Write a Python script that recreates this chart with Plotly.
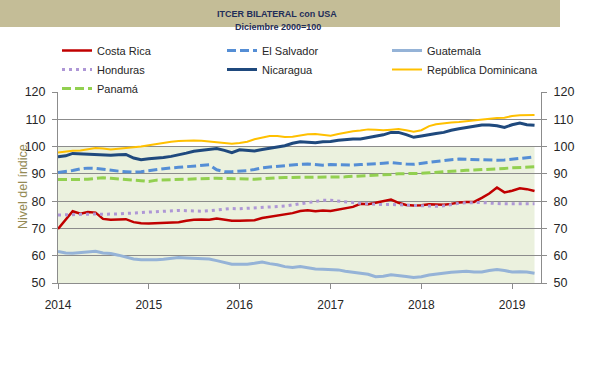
import pandas as pd
import plotly.graph_objects as go

fechas = pd.date_range("2014-01-01", periods=64, freq="MS")

costa_rica = [
    69.8, 73.0, 76.3, 75.4, 76.0, 75.8, 73.5, 73.2, 73.3, 73.4, 72.3, 71.9,
    71.8, 71.9, 72.0, 72.1, 72.3, 72.8, 73.2, 73.3, 73.2, 73.6, 73.1, 72.8,
    72.8, 72.8, 73.0, 73.8, 74.2, 74.6, 75.2, 75.6, 76.4, 76.7, 76.3, 76.6,
    76.4, 76.9, 77.4, 77.9, 79.0, 78.9, 79.4, 80.0, 80.6, 79.4, 78.6, 78.4,
    78.5, 78.9, 78.8, 78.7, 79.0, 79.5, 79.7, 79.7, 81.2, 82.8, 85.0, 83.2,
    83.8, 84.7, 84.4, 83.7]
el_salvador = [
    90.5, 90.8, 91.2, 91.8, 92.1, 92.0, 91.6, 91.2, 91.0, 90.8, 90.6, 90.8,
    91.2, 91.6, 92.0, 92.2, 92.4, 92.6, 92.9, 93.1, 93.3, 91.5, 90.8, 90.8,
    90.9, 91.2, 91.6, 92.2, 92.5, 92.8, 93.0, 93.3, 93.5, 93.6, 93.4, 93.2,
    93.4, 93.3, 93.2, 93.2, 93.4, 93.5, 93.6, 93.9, 94.1, 93.8, 93.6, 93.5,
    93.9, 94.2, 94.5, 94.9, 95.2, 95.4, 95.3, 95.1, 95.0, 95.0, 95.0, 95.1,
    95.3, 95.6, 95.9, 96.2]
guatemala = [
    61.6, 61.0, 60.9, 61.1, 61.2, 61.6, 61.0, 60.8, 60.2, 59.4, 58.8, 58.5,
    58.4, 58.5, 58.7, 59.0, 59.3, 59.2, 59.0, 58.8, 58.8, 58.2, 57.4, 56.9,
    56.9, 56.9, 57.2, 57.7, 57.1, 56.7, 56.0, 55.7, 56.0, 55.5, 55.1, 55.0,
    55.0, 54.8, 54.3, 53.9, 53.7, 53.2, 52.3, 52.5, 53.0, 52.8, 52.4, 52.0,
    52.3, 52.9, 53.3, 53.6, 53.9, 54.1, 54.3, 54.0, 54.0, 54.6, 54.9, 54.6,
    54.0, 54.1, 54.0, 53.6]
honduras = [
    74.9, 75.0, 75.1, 75.2, 75.3, 75.3, 75.2, 75.2, 75.3, 75.5, 75.7, 75.9,
    75.9, 76.1, 76.3, 76.5, 76.6, 76.5, 76.3, 76.3, 76.5, 76.8, 77.0, 77.3,
    77.2, 77.4, 77.5, 77.6, 77.8, 77.9, 78.2, 78.6, 79.0, 79.5, 79.9, 80.3,
    80.3, 80.1, 79.8, 79.5, 79.2, 79.0, 78.8, 78.7, 78.8, 78.7, 78.5, 78.4,
    78.3, 78.1, 78.1, 78.3, 78.8, 79.2, 79.4, 79.5, 79.5, 79.3, 79.1, 79.0,
    79.0, 79.0, 79.0, 79.0]
nicaragua = [
    96.3, 96.6, 97.5, 97.4, 97.3, 97.0, 96.9, 96.8, 97.0, 97.1, 95.8, 95.2,
    95.5, 95.7, 96.0, 96.4, 96.9, 97.6, 98.3, 98.7, 99.0, 99.3, 98.6, 97.8,
    98.8, 98.6, 98.4, 98.9, 99.3, 99.8, 100.3, 101.2, 101.8, 101.6, 101.4, 101.8,
    101.9, 102.3, 102.6, 102.8, 102.8, 103.3, 103.9, 104.3, 105.2, 105.2, 104.4, 103.4,
    103.9, 104.5, 104.8, 105.2, 106.0, 106.5, 107.0, 107.6, 107.9, 107.9, 107.6, 107.0,
    108.0, 108.6, 108.0, 107.8]
rep_dominicana = [
    97.8, 98.2, 98.5, 98.6, 99.0, 99.5, 99.3, 98.9, 99.2, 99.5, 99.6, 100.0,
    100.5, 101.0, 101.3, 101.8, 102.0, 102.2, 102.2, 102.1, 101.8, 101.5, 101.2, 101.0,
    101.3, 101.8, 102.7, 103.4, 103.9, 103.9, 103.5, 103.6, 104.0, 104.5, 104.6, 104.2,
    104.0, 104.6, 105.1, 105.6, 105.9, 106.3, 106.2, 106.0, 106.2, 106.4, 106.0, 105.4,
    106.0, 107.5, 108.2, 108.6, 108.8, 109.0, 109.3, 109.7, 110.0, 110.3, 110.5, 110.6,
    111.2, 111.5, 111.6, 111.6]
panama = [
    87.9, 87.9, 87.9, 87.9, 88.0, 88.3, 88.6, 88.4, 88.1, 87.9, 87.7, 87.5,
    87.2, 87.7, 87.8, 87.7, 87.8, 87.9, 88.0, 88.2, 88.4, 88.4, 88.3, 88.3,
    88.1, 88.1, 88.0, 88.2, 88.5, 88.7, 88.7, 88.7, 88.7, 88.7, 88.7, 88.7,
    88.7, 88.8, 88.9, 89.1, 89.2, 89.4, 89.5, 89.6, 89.8, 90.0, 90.0, 90.1,
    90.2, 90.4, 90.6, 90.8, 91.0, 91.2, 91.3, 91.4, 91.5, 91.6, 91.8, 92.0,
    92.2, 92.4, 92.5, 92.6]

banda_min, banda_max = 50, 100
y_rango = [50, 120]
y_ticks = [50, 60, 70, 80, 90, 100, 110, 120]
x_ticks = ["2014-01-01", "2015-01-01", "2016-01-01", "2017-01-01", "2018-01-01", "2019-01-01"]
x_labels = ["2014", "2015", "2016", "2017", "2018", "2019"]

titulo1 = "ITCER BILATERAL con USA"
titulo2 = "Diciembre 2000=100"
eje_y = "Nivel del índice"

series = [
    ("Costa Rica", costa_rica, "#C00000", 2.5, "solid"),
    ("El Salvador", el_salvador, "#558ED5", 3, "9px,4px"),
    ("Guatemala", guatemala, "#95B3D7", 3, "solid"),
    ("Honduras", honduras, "#AE97D6", 3, "3px,4px"),
    ("Nicaragua", nicaragua, "#1F497D", 3, "solid"),
    ("República Dominicana", rep_dominicana, "#FFC000", 2, "solid"),
    ("Panamá", panama, "#92D050", 3, "9px,4px"),
]

W, H = 591, 371
L, R, T, B = 58, 50, 92, 88
pw, ph = W - L - R, H - T - B

def px_x(p):
    return (p - L) / pw

def px_y(p):
    return (H - B - p) / ph

fig = go.Figure()
for nombre, vals, color, ancho, dash in series:
    fig.add_trace(go.Scatter(
        x=fechas, y=vals, name=nombre, mode="lines",
        line=dict(color=color, width=ancho, dash=dash),
    ))
# invisible trace to attach the right axis
fig.add_trace(go.Scatter(x=fechas, y=costa_rica, yaxis="y2", mode="lines",
                         line=dict(width=0), opacity=0, showlegend=False,
                         hoverinfo="skip"))

font_fam = "Liberation Sans, Arial, sans-serif"
grid_col = "#8C8C8C"

fig.update_layout(
    width=W, height=H,
    margin=dict(l=L, r=R, t=T, b=B, autoexpand=False),
    paper_bgcolor="white", plot_bgcolor="white",
    font=dict(family=font_fam, size=12, color="#262626"),
    showlegend=True,
    legend=dict(
        orientation="h", xref="paper", yref="paper",
        x=px_x(57), y=px_y(36), xanchor="left", yanchor="top",
        entrywidth=120, entrywidthmode="pixels",
        font=dict(size=11, color="#262626"),
        bgcolor="rgba(0,0,0,0)", itemwidth=30, tracegroupgap=0,
    ),
    xaxis=dict(
        range=["2014-01-01", "2019-04-27"], type="date",
        tickvals=x_ticks, ticktext=x_labels,
        showgrid=False, showline=True, linecolor=grid_col, linewidth=1,
        ticks="outside", ticklen=5, tickcolor=grid_col,
        ticklabelstandoff=6,
        tickfont=dict(size=12, color="#262626"), zeroline=False,
    ),
    yaxis=dict(
        range=y_rango, tickvals=y_ticks, showgrid=True, gridcolor=grid_col,
        gridwidth=1, showline=True, linecolor=grid_col, linewidth=1,
        ticks="outside", ticklen=5, tickcolor=grid_col, zeroline=False,
        ticklabelstandoff=4,
        tickfont=dict(size=12.5, color="#262626"),
    ),
    yaxis2=dict(
        range=y_rango, tickvals=y_ticks, overlaying="y", side="right",
        showgrid=False, showline=True, linecolor=grid_col, linewidth=1,
        ticks="outside", ticklen=5, tickcolor=grid_col, zeroline=False,
        ticklabelstandoff=4,
        tickfont=dict(size=12.5, color="#262626"),
    ),
    shapes=[
        dict(type="rect", xref="x", yref="y", x0=fechas[0], x1=fechas[-1],
             y0=banda_min, y1=banda_max, fillcolor="#EBF1DE",
             line=dict(width=0), layer="below"),
        dict(type="rect", xref="paper", yref="paper", x0=px_x(0), x1=px_x(560),
             y0=px_y(27), y1=px_y(0), fillcolor="#C4BD97",
             line=dict(width=0), layer="below"),
    ],
    annotations=[
        dict(text="<b>" + titulo1 + "</b>", xref="paper", yref="paper",
             x=px_x(277), y=px_y(7), showarrow=False,
             font=dict(size=9, color="#1F2D5A")),
        dict(text="<b>" + titulo2 + "</b>", xref="paper", yref="paper",
             x=px_x(278), y=px_y(20), showarrow=False,
             font=dict(size=9, color="#1F2D5A")),
        dict(text=eje_y, xref="paper", yref="paper", x=px_x(14), y=px_y(187),
             textangle=-90, showarrow=False,
             font=dict(size=12.5, color="#948A54")),
    ],
)

fig.write_html("out.html", config={"displayModeBar": False},
               post_script="document.body.style.margin='0';")
